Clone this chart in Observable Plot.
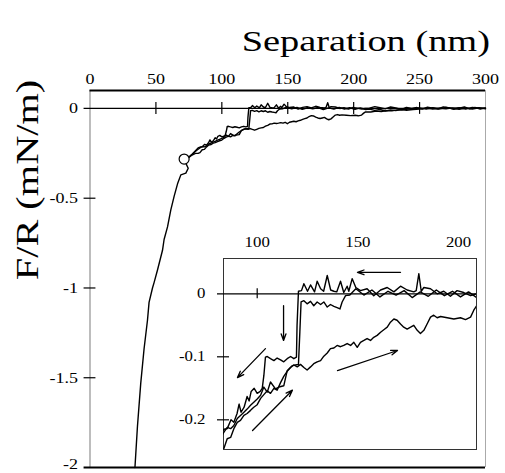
<!DOCTYPE html>
<html><head><meta charset="utf-8">
<script src="https://cdn.jsdelivr.net/npm/d3@7"></script>
<script src="https://cdn.jsdelivr.net/npm/@observablehq/plot@0.6"></script>
<style>
body{margin:0;background:#fff;}
#wrap{position:relative;width:505px;height:473px;overflow:hidden;}
#inset{position:absolute;left:183px;top:233px;}
</style></head><body><div id="wrap"><div id="main"></div><div id="inset"></div></div>
<script>
// ---- tick values ----
const xTicks = [0, 50, 100, 150, 200, 250, 300];
const yTicks = [0, -0.5, -1, -1.5];
const yBottomTick = [-2];
const zeroLineTicks = [50, 100, 150, 200, 250];
const leftAxisTicks = [-0.5, -1, -1.5];
const insetXTicks = [100, 150, 200];
const insetYTicks = [0, -0.1, -0.2];
const insetZeroTicks = [100];

// ---- approach curve 1 (flat at zero, jumps in at ~120 nm) ----
const approach1X = [300,296,292,288,284,280,276,272,268,264,260,256,252,248,244,240,236,232,228,224,220,216,212,
  209,206,202.6,199.3,196,192.7,189.4,186.1,182.8,181.5,180.3,179,177.8,174.5,171.2,167.9,164.6,161.3,157.9,154.6,151.3,149,147.2,145.5,144.7,143,141.4,139.5,138.1,136.5,134.8,133,131.5,129.8,128.5,126.5,125,123.2,122,120.5,
  119.8,119.5,118.2,116.6,114.9,113.2,111.6,109.9,108.3,106.6,105,104.1,103.3,102.5,101.5,100,98.5,97,96,95,93.5,92,91,90,88.4,87,85.1,83.5,82,80,77.5,75,73];
const approach1Y = [0.003,-0.004,0.006,-0.002,0.008,0.001,-0.005,0.004,0.009,-0.003,0.002,0.007,-0.004,0.005,0,0.006,-0.006,0.003,0.008,-0.002,0.004,0.01,0.002,
  0,-0.003,0.002,0.005,-0.004,0.004,0,0.008,0.01,0.004,0.032,0.005,0.003,0.006,0.012,0.003,0.01,0.006,-0.003,0.008,0.005,0.01,0.024,0.004,0.012,0.002,0.02,0.003,0.004,0.006,0.029,0.004,0.008,0.02,0.003,0.014,0.004,0.016,0.005,0.004,
  -0.05,-0.1005,-0.103,-0.0995,-0.103,-0.108,-0.105,-0.102,-0.106,-0.103,-0.0995,-0.1005,-0.13,-0.15,-0.155,-0.158,-0.15,-0.155,-0.17,-0.163,-0.18,-0.188,-0.175,-0.19,-0.204,-0.2,-0.214,-0.215,-0.22,-0.235,-0.255,-0.27,-0.28];

// ---- approach curve 2 (slightly below zero, jumps in at ~121 nm) ----
const approach2X = [300,295,290,285,280,275,270,265,260,255,250,245,240,236,232,228,224,220,216,212,
  209,205,201,197,193,189,185,181,177,173,169,165,161,157,153,149,146,143.9,142.2,141.1,139.7,138.1,136.4,134.8,133.1,131.5,129.8,128.1,126.5,124.8,123.2,121.8,
  121.2,120.5,119,117.4,114.9,113.2,110.8,109.1,106.6,105,103.3,101.7,100,98.3,96.7,95,93.4,91.7,90.1,88.4,86.8,85.1,83.4,81.5,79,76,73.5];
const approach2Y = [-0.002,0.004,-0.003,0.002,-0.005,0.003,-0.002,0.001,-0.004,0.002,-0.003,-0.006,-0.01,-0.004,-0.012,-0.008,-0.014,-0.006,-0.011,-0.004,
  -0.006,0.003,-0.005,0.004,-0.003,0.006,-0.004,0.003,-0.006,0.005,-0.002,0.004,-0.005,0.006,-0.002,0.008,-0.002,-0.003,-0.013,-0.024,-0.022,-0.02,-0.017,-0.021,-0.013,-0.017,-0.013,-0.019,-0.012,-0.016,-0.011,-0.013,
  -0.06,-0.112,-0.113,-0.114,-0.122,-0.146,-0.148,-0.151,-0.14,-0.156,-0.148,-0.161,-0.167,-0.172,-0.177,-0.183,-0.188,-0.193,-0.198,-0.209,-0.214,-0.212,-0.22,-0.23,-0.245,-0.265,-0.28];

// ---- retraction curve (from contact, slowly back to zero) ----
const retractX = [34.1,36,38.5,41,43.6,44.8,47.4,48.6,51.2,55,56.2,58.8,61.3,63.8,66.4,68.9,72.7,74.5,73,72,74.5,77,80,82,
  83.4,85.1,86.8,88.4,90.1,91.7,93.4,95,96.7,98.3,100,101.7,103.3,105,106.6,108.3,109.9,111.6,113.2,114.9,116.6,118.2,119.9,121.5,123.2,124.8,126.5,128.1,129.8,131.5,133.1,134.8,136.4,138.1,139.7,141.4,143,144.7,146.4,148,149.7,151.3,153,154.6,156.3,157.9,159.6,161.3,162.9,164.6,166.2,167.9,169.5,171.2,172.8,174.5,176.2,177.8,179.5,181.1,182.8,184.4,186.1,187.7,189.4,191.1,194.4,197.7,201,203.5,206,207.6,209,
  213,217,221,225,229,233,237,241,245,250,255,260,265,270,275,280,285,290,295,300];
const retractY = [-2,-1.77,-1.53,-1.34,-1.18,-1.08,-1,-0.97,-0.9,-0.79,-0.73,-0.66,-0.565,-0.49,-0.42,-0.37,-0.36,-0.333,-0.31,-0.29,-0.275,-0.262,-0.25,-0.25,
  -0.246,-0.23,-0.228,-0.214,-0.204,-0.201,-0.193,-0.19,-0.185,-0.18,-0.176,-0.166,-0.16,-0.154,-0.158,-0.15,-0.153,-0.141,-0.131,-0.123,-0.117,-0.113,-0.116,-0.112,-0.117,-0.121,-0.116,-0.111,-0.108,-0.106,-0.099,-0.094,-0.087,-0.086,-0.082,-0.084,-0.082,-0.079,-0.082,-0.077,-0.085,-0.077,-0.074,-0.071,-0.074,-0.069,-0.066,-0.061,-0.057,-0.053,-0.045,-0.04,-0.042,-0.048,-0.053,-0.056,-0.053,-0.05,-0.058,-0.063,-0.058,-0.048,-0.037,-0.034,-0.038,-0.036,-0.038,-0.04,-0.038,-0.041,-0.037,-0.026,-0.019,
  -0.02,-0.015,-0.017,-0.012,-0.013,-0.008,-0.009,-0.004,-0.002,0.003,-0.003,0.004,-0.002,0.005,0,0.004,-0.003,0.006,0.001,0.002];

// ---- open-circle marker ----
const markerX = [71.4];
const markerY = [-0.282];

// ---- inset arrows ----
const arrowX1 = [171.2, 113.1, 104.1, 97.7, 139.9];
const arrowY1 = [0.034, -0.019, -0.087, -0.217, -0.122];
const arrowX2 = [149.8, 113.1, 90.2, 117.5, 169.7];
const arrowY2 = [0.034, -0.074, -0.133, -0.153, -0.090];

const rows = (xs, ys) => xs.map((x, i) => ({x, y: ys[i]}));
const curves = [rows(approach1X, approach1Y), rows(approach2X, approach2Y), rows(retractX, retractY)];
const markerRows = rows(markerX, markerY);
const arrows = arrowX1.map((d, i) => ({x1: d, y1: arrowY1[i], x2: arrowX2[i], y2: arrowY2[i]}));

const SERIF = "'Liberation Serif', 'Times New Roman', Times, serif";
function stretch(svg, s) {
  svg.querySelectorAll("text").forEach(t => {
    const tr = t.getAttribute("transform") || "";
    t.setAttribute("transform", tr + ` scale(${s},1)`);
  });
}

// ---- main chart ----
const main = Plot.plot({
  width: 505, height: 473,
  marginLeft: 89.5, marginRight: 20, marginTop: 90, marginBottom: 6,
  style: {fontFamily: SERIF, fontSize: "15px", background: "white", color: "black"},
  x: {domain: [0, 300]},
  y: {domain: [-2, 0.1]},
  marks: [
    Plot.ruleX([0], {y1: -2, y2: 0.1, stroke: "#999", strokeWidth: 1.3}),
    Plot.ruleX([300], {y1: -2, y2: 0.1, stroke: "#aaa", strokeWidth: 1}),
    Plot.ruleY([0.1], {x1: 0, x2: 300, stroke: "black", strokeWidth: 2}),
    Plot.ruleY([-2], {x1: -4.5, x2: 300, stroke: "black", strokeWidth: 2}),
    Plot.ruleY([0], {x1: -4.5, x2: 300, stroke: "black", strokeWidth: 1.2}),
    Plot.ruleY(leftAxisTicks, {x1: -4.5, x2: 4.5, stroke: "black", strokeWidth: 1.2}),
    Plot.ruleX(zeroLineTicks, {y1: -0.033, y2: 0.033, stroke: "black", strokeWidth: 1.2}),
    Plot.axisX({ticks: xTicks, anchor: "top", tickSize: 0, tickPadding: 7, label: null, fontSize: 15}),
    Plot.axisY({ticks: yTicks, anchor: "left", tickSize: 0, tickPadding: 12, label: null, fontSize: 15, tickFormat: d => String(d)}),
    Plot.axisY({ticks: yBottomTick, anchor: "left", tickSize: 0, tickPadding: 12, label: null, fontSize: 15, dy: -3, tickFormat: d => String(d)}),
    ...curves.map(c => Plot.line(c, {x: "x", y: "y", stroke: "black", strokeWidth: 1.4})),
    Plot.dot(markerRows, {x: "x", y: "y", r: 5, fill: "white", stroke: "black", strokeWidth: 1.2})
  ]
});
stretch(main, 1.2);
const ms = d3.select(main);
ms.append("text").attr("transform", "translate(490,51) scale(1.28,1)")
  .attr("text-anchor", "end").attr("font-size", 30).attr("fill", "black").text("Separation (nm)");
ms.append("text").attr("transform", "translate(38,180) rotate(-90) scale(1.26,1)")
  .attr("text-anchor", "middle").attr("font-size", 32).attr("fill", "black").text("F/R (mN/m)");
document.getElementById("main").appendChild(main);

// ---- inset ----
const ix0 = 83.26, ix1 = 208.95;
const inset = Plot.plot({
  width: 297, height: 220,
  marginLeft: 40, marginTop: 25, marginRight: 4, marginBottom: 4,
  style: {fontFamily: SERIF, fontSize: "14px", background: "transparent", color: "black", overflow: "visible"},
  x: {domain: [ix0, ix1]},
  y: {domain: [-0.2471, 0.056]},
  marks: [
    Plot.frame({stroke: "#333", strokeWidth: 1}),
    Plot.ruleY([0], {x1: ix0 - 3, x2: ix1, stroke: "black", strokeWidth: 1.2}),
    Plot.ruleY(insetYTicks.slice(1), {x1: ix0 - 3, x2: ix0 + 3, stroke: "black", strokeWidth: 1.2}),
    Plot.ruleX(insetZeroTicks, {y1: -0.008, y2: 0.008, stroke: "black", strokeWidth: 1.2}),
    Plot.axisX({ticks: insetXTicks, anchor: "top", tickSize: 0, tickPadding: 12, label: null, fontSize: 14}),
    Plot.axisY({ticks: insetYTicks, anchor: "left", tickSize: 0, tickPadding: 18, label: null, fontSize: 14, tickFormat: d => String(d)}),
    ...curves.map(c => Plot.line(c, {x: "x", y: "y", stroke: "black", strokeWidth: 1.4, clip: true})),
    Plot.arrow(arrows, {x1: "x1", y1: "y1", x2: "x2", y2: "y2", stroke: "black", strokeWidth: 1.3, headLength: 8, headAngle: 40})
  ]
});
stretch(inset, 1.2);
document.getElementById("inset").appendChild(inset);
</script></body></html>
